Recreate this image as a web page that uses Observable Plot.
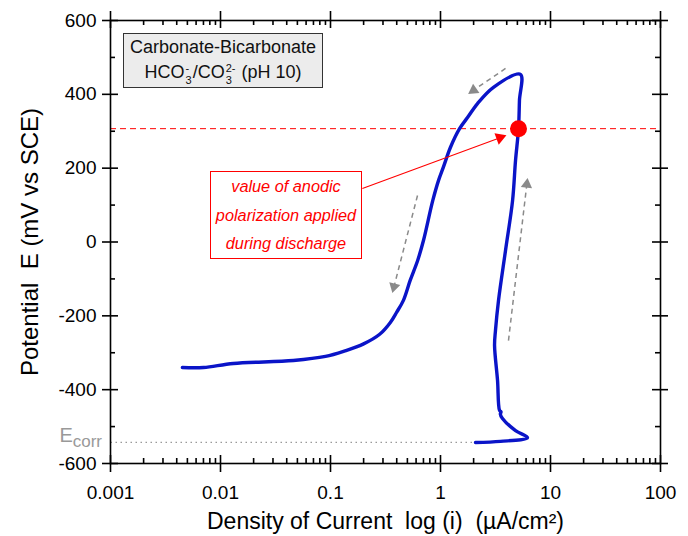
<!DOCTYPE html>
<html><head><meta charset="utf-8">
<script src="https://cdn.jsdelivr.net/npm/d3@7"></script>
<script src="https://cdn.jsdelivr.net/npm/@observablehq/plot@0.6"></script>
<style>
body{margin:0;background:#fff;}
#wrap{position:relative;width:688px;height:536px;font-family:"Liberation Sans",Arial,sans-serif;}
#wrap svg{display:block;}
.legend{position:absolute;left:123px;top:33px;width:200px;height:55px;background:#ececec;border:1.2px solid #333;box-sizing:border-box;text-align:center;font-size:18px;line-height:25px;color:#111;padding-top:1px;}
.ss{display:inline-block;vertical-align:-6px;font-size:11px;line-height:12px;text-align:left;margin:0 1px;}
.ss span{display:block;}
.anno{position:absolute;left:210px;top:171px;width:152px;height:88px;background:#fff;border:1px solid #f00;box-sizing:border-box;text-align:center;color:#f00;font-style:italic;font-size:16.3px;line-height:28.5px;}
.ecorr{position:absolute;right:586px;top:424px;color:#999;font-size:20px;white-space:nowrap;}
.ecorr sub{font-size:17px;vertical-align:-5px;}
</style>
</head><body>
<div id="wrap"></div>
<script>
// ---- data ----
// forward (anodic) sweep starting at Ecorr, current density in µA/cm², potential in mV vs SCE
const fwdI = [2.08, 3.51, 6.18, 4.81, 3.66, 3.50, 3.55, 3.44, 3.30, 3.10, 3.16, 3.37, 3.90, 4.52, 4.81, 5.12, 5.22, 5.33];
const fwdE = [-543, -540, -530, -511, -478, -466, -460, -456, -375, -280, -240, -158, -23, 112, 221, 307, 383, 454];
// reverse sweep
const revI = [5.33, 3.03, 2.17, 1.76, 1.49, 1.23, 1.06, 0.96, 0.85, 0.70, 0.62, 0.53, 0.46, 0.40, 0.35, 0.28, 0.20, 0.135, 0.090, 0.046, 0.0131, 0.0070, 0.0045];
const revE = [454, 419, 375, 337, 307, 256, 202, 167, 112, 4, -50, -104, -158, -190, -218, -250, -276, -295, -310, -321, -329, -340, -340];
// anodic polarization point and Ecorr
const polI = [5.12], polE = [307];
const ecorrE = [-543], ecorrI = [2.08];
// direction arrows (grey) and annotation arrow (red)
const dirX1 = [3.9, 0.618, 4.15], dirE1 = [470, 126, -267];
const dirX2 = [1.80, 0.366, 6.18], dirE2 = [402, -137, 172];
const annX1 = [0.195], annE1 = [145], annX2 = [3.9], annE2 = [288];
// ticks
const xMajor = [0.001, 0.01, 0.1, 1, 10, 100];
const xLabels = ["0.001", "0.01", "0.1", "1", "10", "100"];
const yMajor = [-600, -400, -200, 0, 200, 400, 600];
const yMinor = [-500, -300, -100, 100, 300, 500];
const xTitle = "Density of Current  log (i)  (\u00b5A/cm\u00b2)";
const yTitle = "Potential  E (mV vs SCE)";

// ---- layout ----
const W = 688, H = 536, mT = 20, mB = 73, mL = 110, mR = 28;
const pxDec = (W - mL - mR) / 5, pxMv = (H - mT - mB) / 1200;
const xMinor = [];
xMajor.slice(0, -1).forEach(d => { for (let k = 2; k <= 9; k++) xMinor.push(d * k); });

const curve = fwdI.map((v, k) => ({i: v, E: fwdE[k]}))
  .concat(revI.slice(1).map((v, k) => ({i: v, E: revE[k + 1]})));

function arrows(x1, e1, x2, e2, back, cut) {
  return x1.map((_, k) => {
    const dx = (Math.log10(x2[k]) - Math.log10(x1[k])) * pxDec;
    const dy = (e2[k] - e1[k]) * pxMv;
    const L = Math.hypot(dx, dy), ux = dx / L, uy = dy / L;
    return {
      x1: x1[k], y1: e1[k],
      lx: 10 ** (Math.log10(x2[k]) - ux * cut / pxDec), ly: e2[k] - uy * cut / pxMv,
      hx: 10 ** (Math.log10(x2[k]) - ux * back / pxDec), hy: e2[k] - uy * back / pxMv,
      rot: Math.atan2(dx, dy) * 180 / Math.PI
    };
  });
}
const dirArrows = arrows(dirX1, dirE1, dirX2, dirE2, 6, 8);
const annArrows = arrows(annX1, annE1, annX2, annE2, 6, 8);

const sw = 1.6;
const chart = Plot.plot({
  width: W, height: H,
  marginTop: mT, marginBottom: mB, marginLeft: mL, marginRight: mR,
  style: {fontFamily: "'Liberation Sans', Arial, sans-serif", background: "white", color: "black"},
  x: {type: "log", domain: [0.001, 100]},
  y: {domain: [-600, 600]},
  marks: [
    // reference lines
    Plot.ruleY(polE, {stroke: "#ff0000", strokeWidth: 1, strokeDasharray: "6,4"}),
    Plot.link(ecorrE.map((e, k) => ({e, i: ecorrI[k]})), {x1: 0.001, x2: "i", y1: "e", y2: "e", stroke: "#999", strokeWidth: 1.3, strokeDasharray: "1.5,3.5"}),
    // direction arrows
    Plot.link(dirArrows, {x1: "x1", y1: "y1", x2: "lx", y2: "ly", stroke: "#8a8a8a", strokeWidth: 1.5, strokeDasharray: "5,4"}),
    Plot.dot(dirArrows, {x: "hx", y: "hy", symbol: "triangle", r: 4.2, fill: "#8a8a8a", rotate: "rot"}),
    // polarization curve
    Plot.line(curve, {x: "i", y: "E", stroke: "#0a14c8", strokeWidth: 3.4, curve: "catmull-rom", strokeLinejoin: "round"}),
    // annotation arrow
    Plot.link(annArrows, {x1: "x1", y1: "y1", x2: "lx", y2: "ly", stroke: "#ff0000", strokeWidth: 1.1}),
    Plot.dot(annArrows, {x: "hx", y: "hy", symbol: "triangle", r: 4.5, fill: "#ff0000", rotate: "rot"}),
    Plot.dot(polI.map((v, k) => ({i: v, E: polE[k]})), {x: "i", y: "E", r: 8.5, fill: "#ff0000"}),
    // frame and ticks
    Plot.frame({stroke: "black", strokeWidth: sw}),
    Plot.ruleX(xMajor, {x: d => d, y1: -600, y2: -600, insetTop: -8, insetBottom: -9, stroke: "black", strokeWidth: sw}),
    Plot.ruleX(xMajor, {x: d => d, y1: 600, y2: 600, insetTop: -9, insetBottom: -8, stroke: "black", strokeWidth: sw}),
    Plot.ruleX(xMinor, {x: d => d, y1: -600, y2: -600, insetTop: -5, insetBottom: 0, stroke: "black", strokeWidth: sw}),
    Plot.ruleX(xMinor, {x: d => d, y1: 600, y2: 600, insetTop: 0, insetBottom: -5, stroke: "black", strokeWidth: sw}),
    Plot.ruleY(yMajor, {y: d => d, x1: 0.001, x2: 0.001, insetLeft: -8, insetRight: -8, stroke: "black", strokeWidth: sw}),
    Plot.ruleY(yMajor, {y: d => d, x1: 100, x2: 100, insetLeft: -8, insetRight: -8, stroke: "black", strokeWidth: sw}),
    Plot.ruleY(yMinor, {y: d => d, x1: 0.001, x2: 0.001, insetLeft: 0, insetRight: -5, stroke: "black", strokeWidth: sw}),
    Plot.ruleY(yMinor, {y: d => d, x1: 100, x2: 100, insetLeft: -5, insetRight: 0, stroke: "black", strokeWidth: sw}),
    // tick labels
    Plot.axisX(xMajor, {anchor: "bottom", tickSize: 0, tickPadding: 22, fontSize: 19, label: null, tickFormat: d => xLabels[xMajor.indexOf(d)]}),
    Plot.axisY(yMajor, {anchor: "left", tickSize: 0, tickPadding: 14, fontSize: 19, label: null, tickFormat: d => String(d)}),
    // axis titles
    Plot.text([xTitle], {frameAnchor: "bottom", dy: 58, lineAnchor: "middle", textAnchor: "middle", text: d => d, fontSize: 23, fill: "black"}),
    Plot.text([yTitle], {frameAnchor: "left", dx: -80, rotate: -90, lineAnchor: "middle", textAnchor: "middle", text: d => d, fontSize: 24, fill: "black"})
  ]
});
const wrap = document.getElementById("wrap");
wrap.appendChild(chart);
wrap.insertAdjacentHTML("beforeend", `
<div class="legend">Carbonate-Bicarbonate<br>HCO<span class="ss"><span>-</span><span>3</span></span>/CO<span class="ss"><span>2-</span><span>3</span></span> (pH 10)</div>
<div class="anno">value of anodic<br>polarization applied<br>during discharge</div>
<div class="ecorr">E<sub>corr</sub></div>`);
</script>
</body></html>
